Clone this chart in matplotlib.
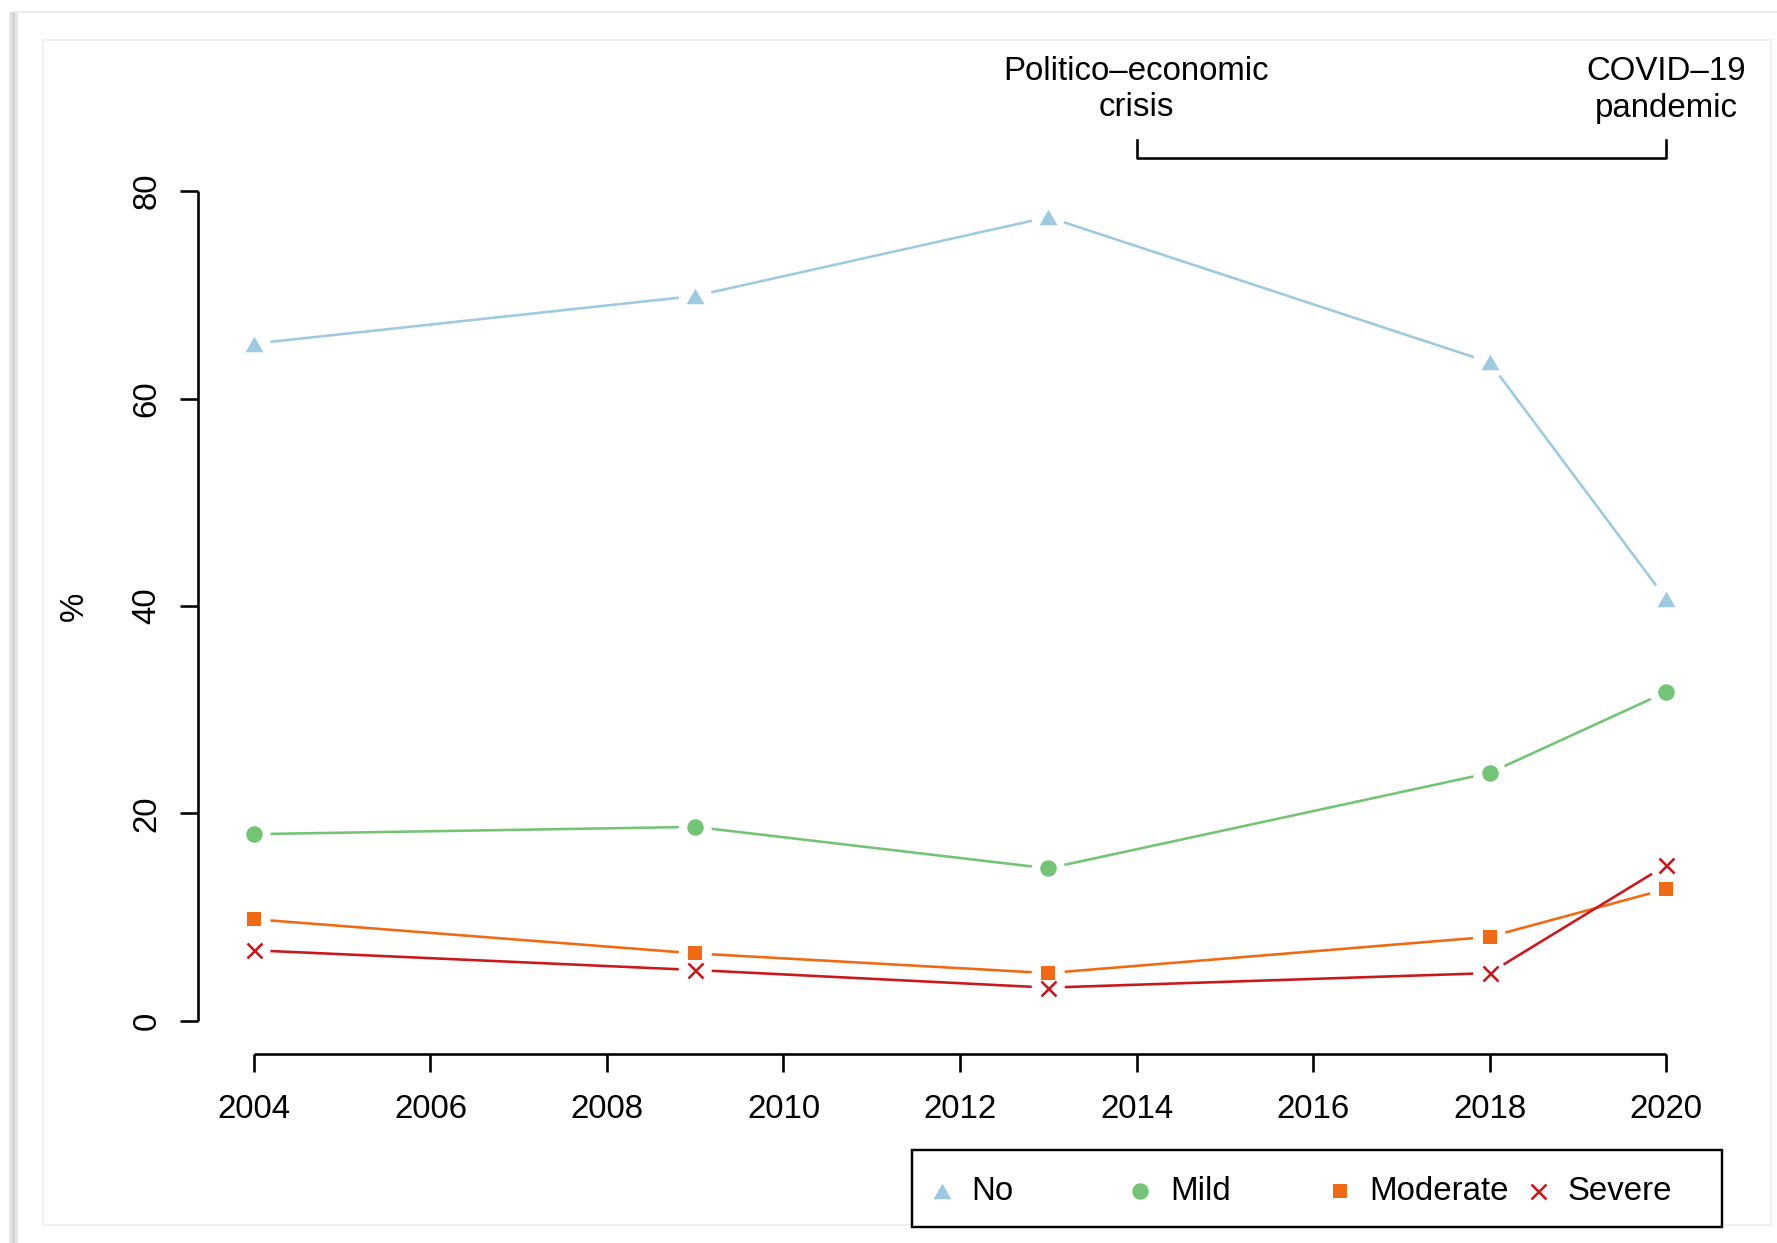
import numpy as np
import matplotlib
matplotlib.use("Agg")
import matplotlib.pyplot as plt
from matplotlib.path import Path
from matplotlib.lines import Line2D
from matplotlib.patches import Rectangle
from matplotlib.transforms import blended_transform_factory

plt.rcParams['font.family'] = ['Liberation Sans', 'DejaVu Sans']

# ---- data -------------------------------------------------------------
years = [2004, 2009, 2013, 2018, 2020]
no_vals = [65.3, 69.9, 77.5, 63.5, 40.7]
mild_vals = [18.0, 18.7, 14.7, 23.9, 31.7]
moderate_vals = [9.8, 6.5, 4.6, 8.1, 12.7]
severe_vals = [6.8, 4.9, 3.2, 4.6, 15.0]

series_names = ["No", "Mild", "Moderate", "Severe"]
x_ticks = [2004, 2006, 2008, 2010, 2012, 2014, 2016, 2018, 2020]
y_ticks = [0, 20, 40, 60, 80]
events = ["Politico\u2013economic\ncrisis", "COVID\u201319\npandemic"]
event_years = [2014, 2020]

# ---- layout -------------------------------------------------------------
W, H, DPI = 1777, 1243, 100
fig = plt.figure(figsize=(W / DPI, H / DPI), dpi=DPI)
fig.patch.set_facecolor("white")
FS = 33  # text size in pixels


def px(v):
    """pixels -> points"""
    return v * 72.0 / DPI


def fx(x):
    return x / W


def fy(y):
    return 1 - y / H


# screenshot-like frame around the plot
fig.add_artist(Rectangle((fx(9), 0), fx(9), fy(12), transform=fig.transFigure,
                         facecolor="#e6e6e6", edgecolor="none", zorder=0))
fig.add_artist(Rectangle((fx(12), 0), fx(3), fy(12), transform=fig.transFigure,
                         facecolor="#d2d2d2", edgecolor="none", zorder=0))
fig.add_artist(Line2D([fx(15), 1], [fy(12), fy(12)], transform=fig.transFigure,
                      color="#ececec", lw=px(2), zorder=0))
fig.add_artist(Rectangle((fx(43), fy(1225)), fx(1771) - fx(43), fy(40) - fy(1225),
                         transform=fig.transFigure, facecolor="none",
                         edgecolor="#f0f0f0", lw=px(2), zorder=0))

left, right, top, bottom = 197.5, 1722.5, 158, 1054
ax = fig.add_axes([fx(left), fy(bottom), fx(right) - fx(left), fy(top) - fy(bottom)])
ax.set_facecolor("none")
xr = x_ticks[-1] - x_ticks[0]
yr = y_ticks[-1] - y_ticks[0]
ax.set_xlim(x_ticks[0] - 0.04 * xr, x_ticks[-1] + 0.04 * xr)
ax.set_ylim(y_ticks[0] - 0.04 * yr, y_ticks[-1] + 0.04 * yr)

for s in ["top", "right"]:
    ax.spines[s].set_visible(False)
ax.spines["left"].set_bounds(y_ticks[0], y_ticks[-1])
ax.spines["bottom"].set_bounds(x_ticks[0], x_ticks[-1])
for s in ["left", "bottom"]:
    ax.spines[s].set_linewidth(px(2.6))
    ax.spines[s].set_capstyle("butt")

ax.set_xticks(x_ticks)
ax.set_yticks(y_ticks)
ax.set_xticklabels([str(t) for t in x_ticks])
ax.set_yticklabels([str(t) for t in y_ticks], rotation=90, va="center")
ax.tick_params(axis="both", direction="out", length=px(18), width=px(2.6),
               labelsize=px(FS), colors="black")
ax.tick_params(axis="x", pad=px(22))
ax.tick_params(axis="y", pad=px(17))

fig.text(fx(74), fy(606), "%", rotation=90, ha="center", va="center", fontsize=px(FS))

# ---- series -------------------------------------------------------------
tri = Path([(-0.5, -0.433), (0.5, -0.433), (0.0, 0.433), (-0.5, -0.433)],
           [Path.MOVETO, Path.LINETO, Path.LINETO, Path.CLOSEPOLY])

styles = [
    dict(values=no_vals, color="#9ecae1", marker=tri, ms=px(18), mew=0),
    dict(values=mild_vals, color="#74c476", marker="o", ms=px(16.5), mew=0),
    dict(values=moderate_vals, color="#f16913", marker="s", ms=px(14.5), mew=0),
    dict(values=severe_vals, color="#cb181d", marker="x", ms=px(15), mew=px(2.6)),
]

gap = 16.5  # pixels kept free around each point on the connecting lines
fig.canvas.draw()
to_disp = ax.transData
to_data = ax.transData.inverted()

for st in styles:
    pts = to_disp.transform(np.column_stack([years, st["values"]]))
    for (x0, y0), (x1, y1) in zip(pts[:-1], pts[1:]):
        d = np.hypot(x1 - x0, y1 - y0)
        if d <= 2 * gap:
            continue
        ux, uy = (x1 - x0) / d, (y1 - y0) / d
        seg = to_data.transform([[x0 + ux * gap, y0 + uy * gap],
                                 [x1 - ux * gap, y1 - uy * gap]])
        ax.plot(seg[:, 0], seg[:, 1], color=st["color"], lw=px(2.6),
                solid_capstyle="butt", zorder=2)
    ax.plot(years, st["values"], linestyle="none", marker=st["marker"],
            ms=st["ms"], color=st["color"], mec=st["color"], mew=st["mew"],
            zorder=3, clip_on=False)

# ---- event annotation ---------------------------------------------------
bt = blended_transform_factory(ax.transData, fig.transFigure)
ax.add_line(Line2D([event_years[0], event_years[0], event_years[1], event_years[1]],
                   [fy(140), fy(158), fy(158), fy(140)], transform=bt,
                   color="black", lw=px(2.6), clip_on=False))
for label, yr_ in zip(events, event_years):
    l1, l2 = label.split("\n")
    ax.text(yr_, fy(71), l1, transform=bt, ha="center", va="center", fontsize=px(FS))
    ax.text(yr_, fy(108), l2, transform=bt, ha="center", va="center", fontsize=px(FS))

# ---- legend -------------------------------------------------------------
fig.add_artist(Rectangle((fx(912), fy(1227)), fx(1722) - fx(912), fy(1150) - fy(1227),
                         transform=fig.transFigure, facecolor="white",
                         edgecolor="black", lw=px(2.4), zorder=4))
marker_x = [942, 1140, 1340, 1538]
text_x = [971, 1170, 1369, 1568]
ly = 1191
for st, name, mx, tx in zip(styles, series_names, marker_x, text_x):
    fig.add_artist(Line2D([fx(mx)], [fy(ly)], transform=fig.transFigure,
                          linestyle="none", marker=st["marker"], ms=st["ms"],
                          color=st["color"], mec=st["color"], mew=st["mew"], zorder=5))
    fig.text(fx(tx), fy(ly), name, ha="left", va="center", fontsize=px(FS), zorder=5)

fig.savefig("out.png", dpi=DPI, facecolor="white")
